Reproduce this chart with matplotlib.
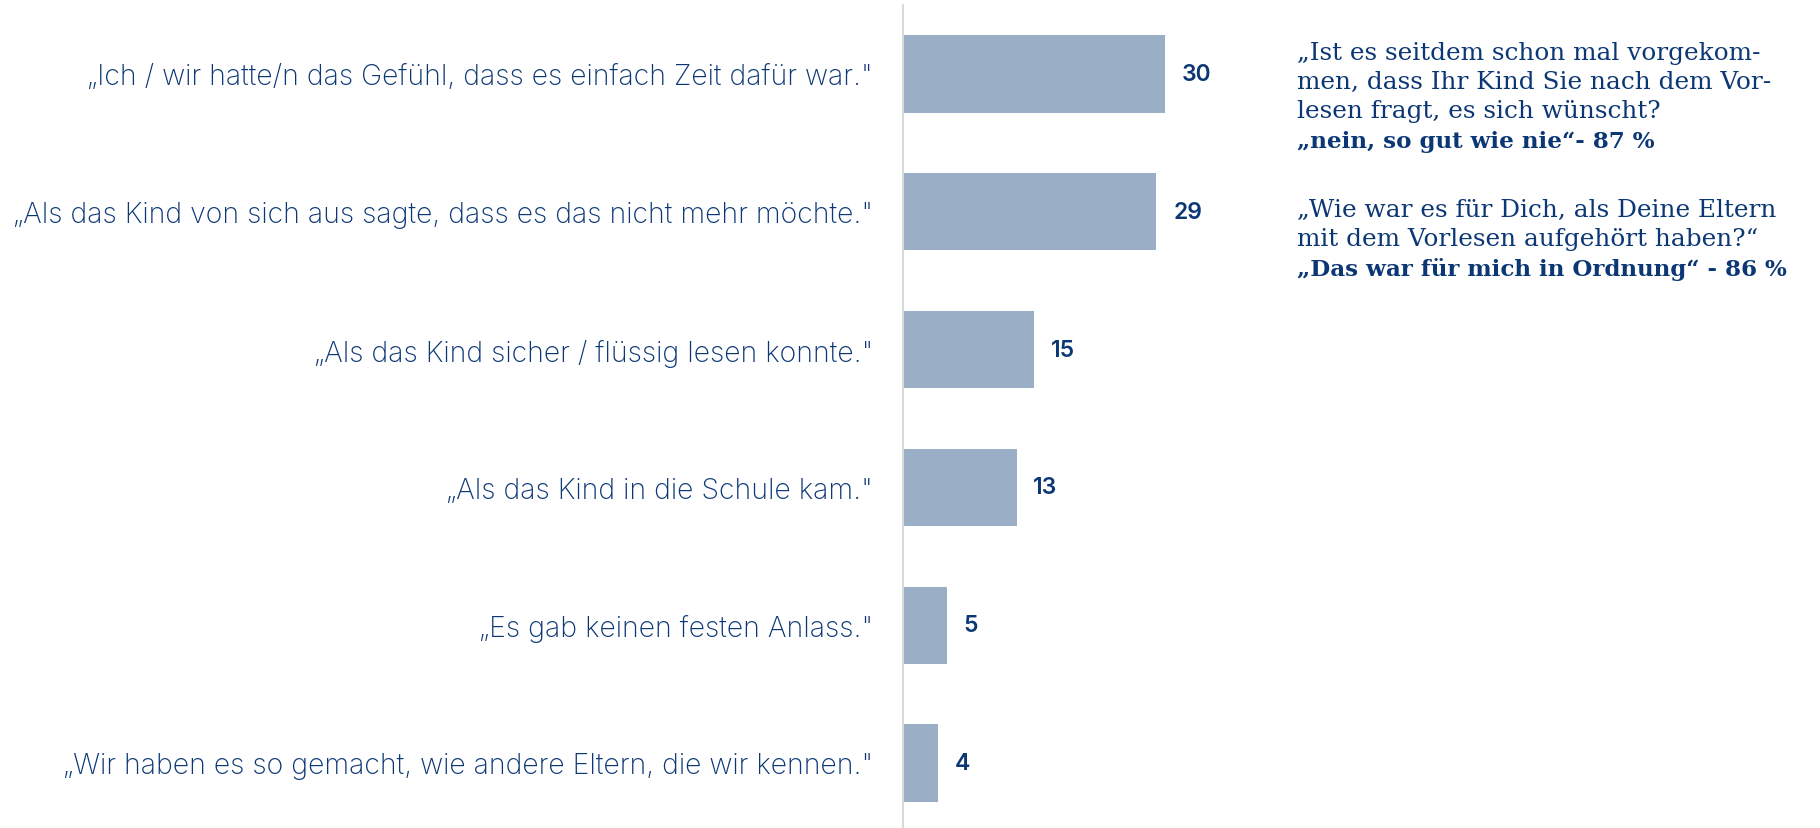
import matplotlib
matplotlib.use("Agg")
import matplotlib.pyplot as plt

categories = [
    "„Ich / wir hatte/n das Gefühl, dass es einfach Zeit dafür war.\"",
    "„Als das Kind von sich aus sagte, dass es das nicht mehr möchte.\"",
    "„Als das Kind sicher / flüssig lesen konnte.\"",
    "„Als das Kind in die Schule kam.\"",
    "„Es gab keinen festen Anlass.\"",
    "„Wir haben es so gemacht, wie andere Eltern, die wir kennen.\"",
]
values = [30, 29, 15, 13, 5, 4]

note_lines = [
    ("„Ist es seitdem schon mal vorgekom-", "normal"),
    ("men, dass Ihr Kind Sie nach dem Vor-", "normal"),
    ("lesen fragt, es sich wünscht?", "normal"),
    ("„nein, so gut wie nie“- 87 %", "bold"),
    ("„Wie war es für Dich, als Deine Eltern", "normal"),
    ("mit dem Vorlesen aufgehört haben?“", "normal"),
    ("„Das war für mich in Ordnung“ - 86 %", "bold"),
]
note_baselines_px = [60, 89, 118, 148, 217, 246, 276]

W, H = 1820, 829
TEXT = "#0c3775"
BAR = "#9aafc6"

fig = plt.figure(figsize=(W / 100, H / 100), dpi=100)
ax_left = 903 / W
ax_right = 1280 / W
ax = fig.add_axes([ax_left, 0, ax_right - ax_left, 1 - 6 / H])

ypos = list(range(len(values)))
ax.barh(ypos, values, height=0.56, color=BAR, zorder=2)
ax.set_ylim(5.4717, -0.5007)
ax.set_xlim(0, 377 / 8.74)

for y, v in zip(ypos, values):
    ax.annotate(str(v), xy=(v, y), xytext=(12, 0), textcoords="offset points",
                ha="left", va="center", fontsize=16.5, color=TEXT,
                fontfamily="Inter", fontweight="semibold")

ax.set_yticks(ypos)
ax.set_yticklabels(categories, fontsize=20.45, color=TEXT, fontfamily="Inter",
                   fontweight="light")
ax.tick_params(axis="y", length=0, pad=21.6)
ax.set_xticks([])
for s in ["top", "right", "bottom"]:
    ax.spines[s].set_visible(False)
ax.spines["left"].set_color("#d9d9d9")
ax.spines["left"].set_linewidth(1.5)

for (txt, wt), by in zip(note_lines, note_baselines_px):
    fig.text(1297 / W, 1 - by / H, txt, ha="left", va="baseline",
             fontsize=17.8 if wt == "normal" else 16.6, color=TEXT,
             fontfamily="DejaVu Serif", fontweight=wt)

fig.savefig("out.png", dpi=100)
